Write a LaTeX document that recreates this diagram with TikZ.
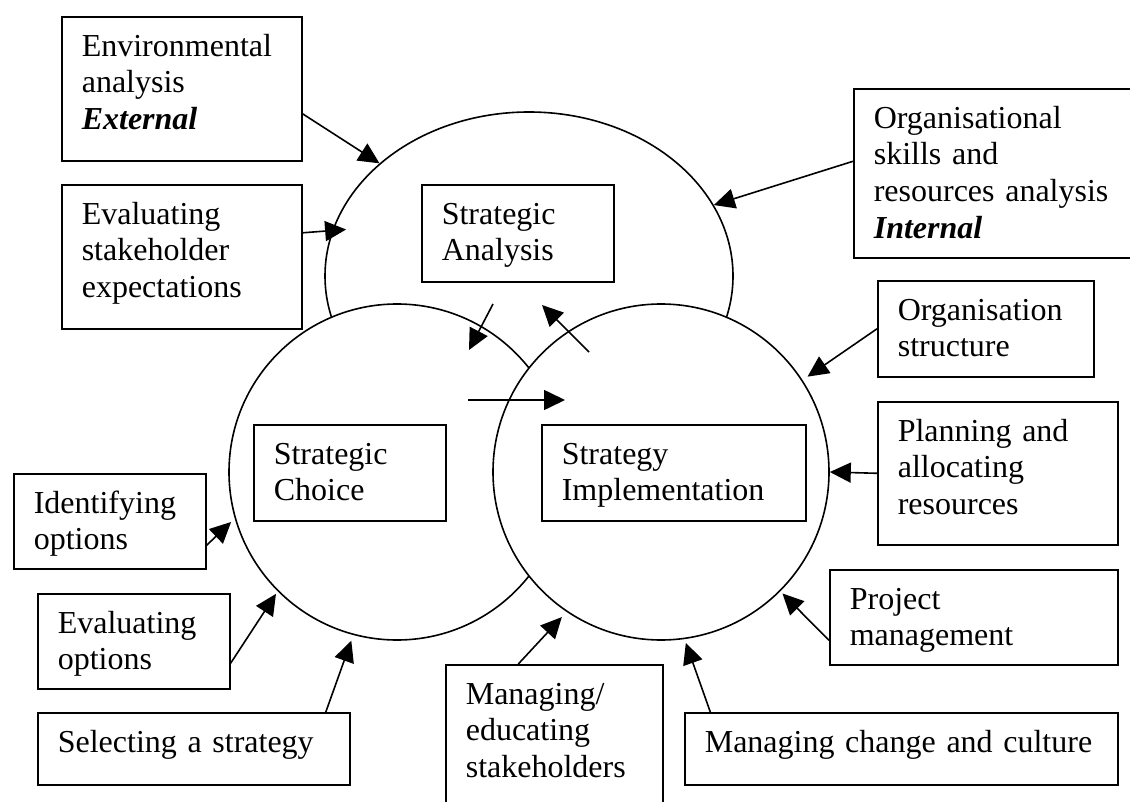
\documentclass[tikz,border=0pt]{standalone}
\usepackage{fontspec}
\setmainfont{Liberation Serif}
\usepackage{tikz}
\usetikzlibrary{arrows.meta,shapes.geometric}

\begin{document}
\begin{tikzpicture}[x=1pt,y=-1pt,line width=1.6pt,
    every node/.style={font=\fontsize{32}{36.6}\selectfont},
    txtbox/.style={draw,fill=white,anchor=north west,align=left,inner xsep=20pt,inner ysep=14.5pt,text height=25pt},
    ring/.style={draw,fill=white,circle,inner sep=0pt,minimum size=336pt},
    arr/.style={-{Triangle[length=21pt,width=20pt]}}]
    \useasboundingbox (0,0) rectangle (1130,802);
    \clip (0,0) rectangle (1130,802);

    % the three overlapping stages
    \node[draw,fill=white,ellipse,inner sep=0pt,minimum width=408pt,minimum height=328pt] (ana) at (529,276) {};
    \node[ring] (cho) at (397,472) {};
    \node[ring] (imp) at (661,472) {};

    \node[txtbox,text width=152pt,text depth=43pt] (anabox) at (421,184) {Strategic\\Analysis};
    \node[txtbox,text width=152pt,text depth=42pt] (chobox) at (253,424) {Strategic\\Choice};
    \node[txtbox,text width=224pt,text depth=42pt] (impbox) at (541,424) {Strategy\\Implementation};

    \coordinate (sa1) at (493,304);
    \coordinate (sa2) at (469,350);
    \coordinate (si1) at (589,352);
    \coordinate (si2) at (542,305);
    \coordinate (sc1) at (468,400);
    \coordinate (sc2) at (565,400);
    \draw[arr] (sa1) -- (sa2);
    \draw[arr] (si1) -- (si2);
    \draw[arr] (sc1) -- (sc2);

    % boxes round the outside
    \node[txtbox,text width=200pt,text depth=90pt] (envan) at (61,16) {Environmental\\analysis\\\textbf{\textit{External}}};
    \node[txtbox,text width=200pt,text depth=90pt] (stakeexp) at (61,184) {Evaluating\\stakeholder\\expectations};
    \node[txtbox,text width=260pt,text depth=115pt] (orgskills) at (853,88) {Organisational\\skills and\\resources analysis\\\textbf{\textit{Internal}}};
    \node[txtbox,text width=176pt,text depth=42pt] (orgstruct) at (877,280) {Organisation\\structure};
    \node[txtbox,text width=200pt,text depth=89pt] (planning) at (877,401) {Planning and\\allocating\\resources};
    \node[txtbox,text width=248pt,text depth=41pt] (project) at (829,569) {Project\\management};
    \node[txtbox,text width=393pt,text depth=18pt] (change) at (684,712) {Managing change and culture};
    \node[txtbox,text width=177pt,text depth=136pt] (educating) at (445,664) {Managing/\\educating\\stakeholders};
    \node[txtbox,text width=272pt,text depth=18pt] (selecting) at (37,712) {Selecting a strategy};
    \node[txtbox,text width=152pt,text depth=41pt] (evaloptions) at (37,593) {Evaluating\\options};
    \node[txtbox,text width=152pt,text depth=41pt] (identify) at (13,473) {Identifying\\options};

    \draw[arr] ([yshift=-25pt]envan.east) -- (ana.143);
    \draw[arr,shorten >=-14pt] ([yshift=24pt]stakeexp.east) -- (ana.167.4);
    \draw[arr] ([yshift=12pt]orgskills.west) -- (ana.21);
    \draw[arr,shorten >=6pt] (orgstruct.west) -- (imp.33.5);
    \draw[arr] (planning.west) -- (imp.east);
    \draw[arr,shorten >=3pt] ([yshift=-23pt]project.west) -- (imp.-45);
    \draw[arr,shorten >=4pt] ([xshift=-191pt]change.north) -- (imp.-82);
    \draw[arr,shorten >=7pt] ([xshift=-36pt]educating.north) -- (imp.236);
    \draw[arr,shorten >=6pt] ([xshift=132pt]selecting.north) -- (cho.255);
    \draw[arr,shorten >=3pt] ([yshift=-22pt]evaloptions.east) -- (cho.225);
    \draw[arr,shorten >=5pt] ([yshift=-24pt]identify.east) -- (cho.196);
\end{tikzpicture}
\end{document}
